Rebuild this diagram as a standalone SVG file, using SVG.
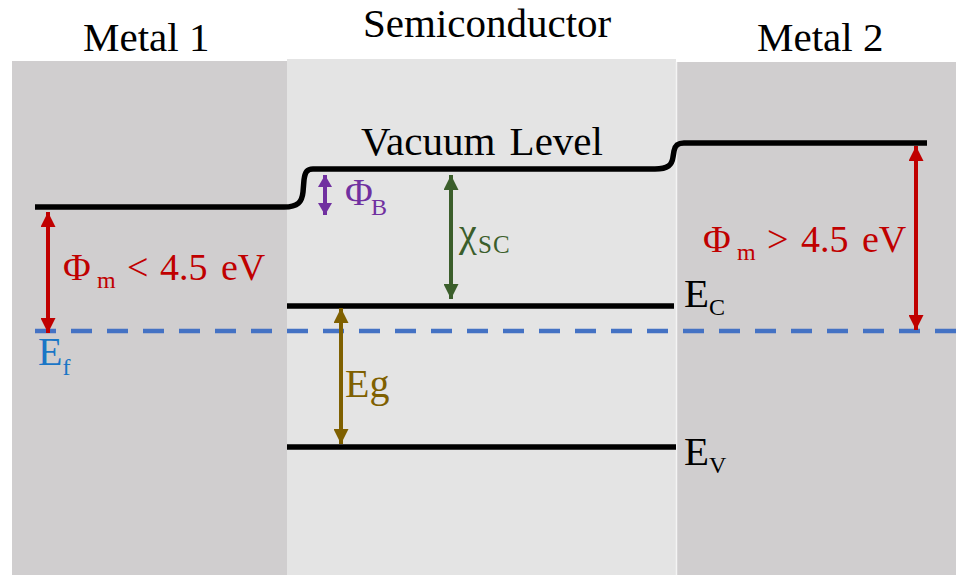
<svg xmlns="http://www.w3.org/2000/svg" width="956" height="575" viewBox="0 0 956 575" font-family="'Liberation Serif', 'DejaVu Serif', serif">
<style>
text{font-family:'Liberation Serif','DejaVu Serif',serif;}
.t{font-size:41px;fill:#000;}
.lvl{fill:none;stroke:#000;stroke-width:5.5;stroke-linecap:butt;}
.red{fill:#c00000;}
.sub{font-size:24px;}
</style>
<defs>
<marker id="hr" viewBox="0 0 16 15" refX="15" refY="7.5" markerWidth="16" markerHeight="15" markerUnits="userSpaceOnUse" orient="auto-start-reverse"><path d="M0,0 L15,7.5 L0,15 Z" fill="#c00000"/></marker>
<marker id="hg" viewBox="0 0 16 15" refX="15" refY="7.5" markerWidth="16" markerHeight="15" markerUnits="userSpaceOnUse" orient="auto-start-reverse"><path d="M0,0 L15,7.5 L0,15 Z" fill="#3b5e2b"/></marker>
<marker id="hy" viewBox="0 0 16 15" refX="15" refY="7.5" markerWidth="16" markerHeight="15" markerUnits="userSpaceOnUse" orient="auto-start-reverse"><path d="M0,0 L15,7.5 L0,15 Z" fill="#7f6000"/></marker>
<marker id="hp" viewBox="0 0 12 14" refX="12" refY="7" markerWidth="12" markerHeight="14" markerUnits="userSpaceOnUse" orient="auto-start-reverse"><path d="M0,0 L12,7 L0,14 Z" fill="#7030a0"/></marker>
</defs>
<rect width="956" height="575" fill="#fff"/>
<g id="metal1">
<rect x="12" y="61" width="275" height="514" fill="#d0cecf"/>
<text class="t" x="83" y="51">Metal 1</text>
</g>
<g id="semiconductor">
<rect x="287" y="59" width="389" height="516" fill="#e4e4e4"/>
<text class="t" x="363" y="37" font-size="42">Semiconductor</text>
</g>
<g id="metal2">
<rect x="676" y="62" width="280" height="513" fill="#d0cecf"/>
<line x1="676.5" y1="62" x2="676.5" y2="575" stroke="#f4f4f4" stroke-width="1.5"/>
<text class="t" x="757" y="51">Metal 2</text>
</g>
<g id="levels">
<path class="lvl" d="M35,207 H284 C298,207 302,202 303,192 L304,180 C305,172 307,169 313,169 H655 C668,169 672,165 673,157 L674,151 C675,145 678,143 684,143 H927"/>
<line class="lvl" x1="287" y1="306" x2="674" y2="306"/>
<line class="lvl" x1="287" y1="447" x2="676" y2="447"/>
<line x1="35" y1="331" x2="956" y2="331" stroke="#4472c4" stroke-width="4.5" stroke-dasharray="21 15"/>
</g>
<g id="labels">
<text class="t" x="361" y="155" font-size="40" word-spacing="4">Vacuum Level</text>
<text class="t" x="684" y="307" font-size="40">E<tspan class="sub" dy="8">C</tspan></text>
<text class="t" x="684" y="465" font-size="40">E<tspan class="sub" dy="8">V</tspan></text>
<text x="38" y="365" font-size="40" fill="#1a76c6">E<tspan class="sub" dy="10">f</tspan></text>
<text x="345" y="397" font-size="40" fill="#7f6000">Eg</text>
<text x="459" y="246" font-size="40" fill="#3b5e2b">χ<tspan x="478" dy="7" font-size="25" letter-spacing="1">SC</tspan></text>
<text x="345" y="205" font-size="38" fill="#7030a0">Φ<tspan class="sub" x="371" dy="10">B</tspan></text>
<text class="red" x="63" y="280" font-size="38">Φ<tspan class="sub" x="97" dy="8">m</tspan><tspan x="127" dy="-8">&lt;</tspan><tspan x="160">4.5</tspan><tspan x="221">eV</tspan></text>
<text class="red" x="703" y="252" font-size="38">Φ<tspan class="sub" x="737" dy="8">m</tspan><tspan x="767" dy="-8">&gt;</tspan><tspan x="801">4.5</tspan><tspan x="862">eV</tspan></text>
</g>
<g id="connectors">
<line x1="48" y1="212" x2="48" y2="333" stroke="#c00000" stroke-width="4" marker-start="url(#hr)" marker-end="url(#hr)"/>
<line x1="916" y1="146" x2="916" y2="330" stroke="#c00000" stroke-width="4" marker-start="url(#hr)" marker-end="url(#hr)"/>
<line x1="451" y1="175" x2="451" y2="299" stroke="#3b5e2b" stroke-width="4" marker-start="url(#hg)" marker-end="url(#hg)"/>
<line x1="341" y1="308" x2="341" y2="444" stroke="#7f6000" stroke-width="4" marker-start="url(#hy)" marker-end="url(#hy)"/>
<line x1="325" y1="175" x2="325" y2="215" stroke="#7030a0" stroke-width="4" marker-start="url(#hp)" marker-end="url(#hp)"/>
</g>
</svg>
